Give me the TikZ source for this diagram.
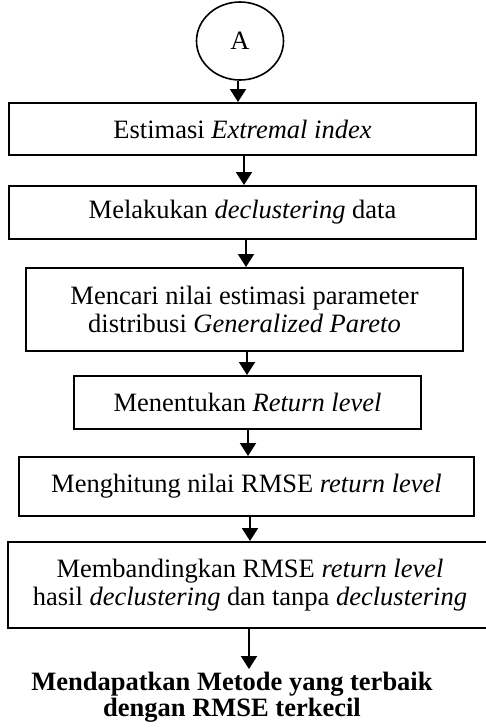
\documentclass[tikz,border=0pt]{standalone}
\usepackage{fontspec}
\setmainfont{Liberation Serif}
\usetikzlibrary{arrows.meta,shapes.geometric}
\begin{document}
\begin{tikzpicture}[x=1pt,y=-1pt,
  every node/.style={font=\fontsize{26.5}{27.5}\selectfont},
  box/.style={draw,line width=2pt,rectangle,inner sep=0pt,align=center},
  arr/.style={line width=2pt,-{Triangle[width=16pt,length=13pt]}}]
  \useasboundingbox (0,0) rectangle (486,728);

  % connector start
  \node[draw,ellipse,line width=1.6pt,minimum width=87pt,minimum height=78pt,inner sep=0pt]
    (a) at (240,41) {A};

  % process steps
  \node[box,minimum width=467pt,minimum height=52pt] (b1) at (242.5,129)
    {Estimasi \textit{Extremal index}};
  \node[box,minimum width=467pt,minimum height=53pt] (b2) at (242.5,212.5)
    {Melakukan \textit{declustering} data};
  \node[box,minimum width=437pt,minimum height=83pt] (b3) at (244.5,309.5)
    {Mencari nilai estimasi parameter\\distribusi \textit{Generalized Pareto}};
  \node[box,minimum width=347pt,minimum height=53pt] (b4) at (247.5,402.5)
    {Menentukan \textit{Return level}};
  \node[box,minimum width=455pt,minimum height=59pt] (b5) at (246.5,486.5)
    {Menghitung nilai RMSE \textit{return level}};
  \node[box,minimum width=484pt,minimum height=86pt] (b6) at (250,585)
    {Membandingkan RMSE \textit{return level}\\hasil \textit{declustering} dan tanpa \textit{declustering}};

  % result
  \node[anchor=north,inner xsep=0pt,inner ysep=3pt,align=center,
    font=\fontsize{26.5}{26}\selectfont\bfseries] (r) at (232,669)
    {Mendapatkan Metode yang terbaik\\dengan RMSE terkecil};

  % flow
  \draw[arr] ([xshift=-2pt]a.south) -- ([xshift=-2pt]a.south |- b1.north);
  \draw[arr] ([xshift=1.5pt]b1.south) -- ([xshift=1.5pt]b1.south |- b2.north);
  \draw[arr] ([xshift=3.5pt]b2.south) -- ([xshift=3.5pt]b2.south |- b3.north);
  \draw[arr] ([xshift=2.5pt]b3.south) -- ([xshift=2.5pt]b3.south |- b4.north);
  \draw[arr] ([xshift=0.5pt]b4.south) -- ([xshift=0.5pt]b4.south |- b5.north);
  \draw[arr] (b6.north |- b5.south) -- (b6.north);
  \draw[arr] ([xshift=-1pt]b6.south) -- ([xshift=-1pt]b6.south |- r.north);
\end{tikzpicture}
\end{document}
